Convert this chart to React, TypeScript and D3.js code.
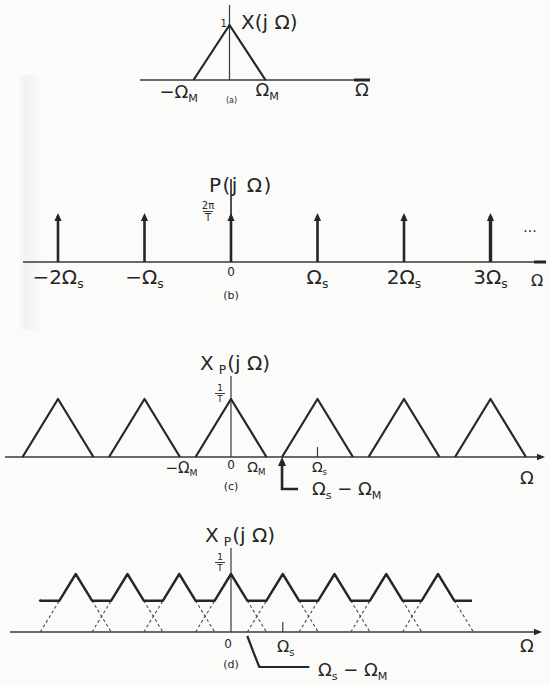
import React from "react";
import * as d3 from "d3";

const W = 550;
const H = 686;

// Frequencies are in units of the band limit Ω_M; magnitudes are normalised to the peak.
const bandLimit = 1;
const peakValue = 1;
const sampleRateWide = 2.44; // Ω_s used in (b) and (c)
const sampleRateNarrow = 1.46; // Ω_s used in (d), below the Nyquist rate
const impulseOrders = [-2, -1, 0, 1, 2, 3];
const impulseTickLabels = [
  [{ t: "−2Ω" }, { t: "s", sub: true }],
  [{ t: "−Ω" }, { t: "s", sub: true }],
  [{ t: "0" }],
  [{ t: "Ω" }, { t: "s", sub: true }],
  [{ t: "2Ω" }, { t: "s", sub: true }],
  [{ t: "3Ω" }, { t: "s", sub: true }],
];
const replicaOrdersC = [-2, -1, 0, 1, 2, 3];
const replicaOrdersD = [-3, -2, -1, 0, 1, 2, 3, 4];
const aliasedExtent = [-5.4, 6.8];

const INK = "#262626";
const AXIS = "#3a3a3a";
const FONT = "'DejaVu Sans', sans-serif";

type Seg = { t: string; sub?: boolean; dx?: number };

function Label({ x, y, parts, size = 18, anchor = "start", spacing = 0 }: { x: number; y: number; parts: Seg[]; size?: number; anchor?: string; spacing?: number }) {
  return (
    <text x={x} y={y} fontSize={size} fontFamily={FONT} fill={INK} textAnchor={anchor as any} letterSpacing={spacing}>
      {parts.map((p, i) =>
        p.sub ? (
          <tspan key={i} fontSize={size * 0.62} dx={p.dx ?? 0} dy={size * 0.22}>{p.t}</tspan>
        ) : (
          <tspan key={i} dx={p.dx ?? 0} dy={i > 0 && parts[i - 1].sub ? -size * 0.22 : 0}>{p.t}</tspan>
        )
      )}
    </text>
  );
}

function triangle(center: number) {
  return [
    [center - bandLimit, 0],
    [center, peakValue],
    [center + bandLimit, 0],
  ];
}

function tri(w: number, c: number) {
  return Math.max(0, peakValue * (1 - Math.abs(w - c) / bandLimit));
}

function ArrowHead({ x, y, dir, size = 7 }: { x: number; y: number; dir: "up" | "right"; size?: number }) {
  const pts = dir === "up"
    ? `${x},${y} ${x - size * 0.45},${y + size} ${x + size * 0.45},${y + size}`
    : `${x},${y} ${x - size},${y - size * 0.4} ${x - size},${y + size * 0.4}`;
  return <polygon points={pts} fill={INK} />;
}

function Frac({ x, y, top, bottom, size = 11 }: { x: number; y: number; top: string; bottom: string; size?: number }) {
  return (
    <g>
      <text x={x} y={y} fontSize={size} fontFamily={FONT} fill={INK} textAnchor="middle">{top}</text>
      <line x1={x - 5} x2={x + 5} y1={y + 2.5} y2={y + 2.5} stroke={INK} strokeWidth={0.9} />
      <text x={x} y={y + size + 2} fontSize={size} fontFamily={FONT} fill={INK} textAnchor="middle">{bottom}</text>
    </g>
  );
}

export default function App() {
  // shared frequency scale for (b), (c), (d)
  const x = d3.scaleLinear().domain([0, bandLimit]).range([231, 266.45]);
  const xA = d3.scaleLinear().domain([0, bandLimit]).range([229.5, 265.5]);

  const yA = d3.scaleLinear().domain([0, peakValue]).range([80, 25]);
  const yB = d3.scaleLinear().domain([0, peakValue]).range([262, 214]);
  const yC = d3.scaleLinear().domain([0, peakValue]).range([457, 399]);
  const yD = d3.scaleLinear().domain([0, peakValue]).range([632, 574]);

  const lineA = d3.line<number[]>().x((d) => xA(d[0])).y((d) => yA(d[1]));
  const lineC = d3.line<number[]>().x((d) => x(d[0])).y((d) => yC(d[1]));
  const lineD = d3.line<number[]>().x((d) => x(d[0])).y((d) => yD(d[1]));

  // (d): overlapping replicas summed into the aliased spectrum
  const allOrders = d3.range(-6, 8);
  const breaks = new Set<number>(aliasedExtent);
  allOrders.forEach((k) => {
    const c = k * sampleRateNarrow;
    [c - bandLimit, c, c + bandLimit].forEach((b) => {
      if (b > aliasedExtent[0] && b < aliasedExtent[1]) breaks.add(b);
    });
  });
  const sumPts = Array.from(breaks)
    .sort((a, b) => a - b)
    .map((w) => [w, d3.sum(allOrders, (k) => tri(w, k * sampleRateNarrow))]);

  const Ms = [{ t: "Ω" }, { t: "M", sub: true }];
  const negMs = [{ t: "−Ω" }, { t: "M", sub: true }];
  const Ss = [{ t: "Ω" }, { t: "s", sub: true }];
  const SminusM = [{ t: "Ω" }, { t: "s", sub: true }, { t: " − Ω" }, { t: "M", sub: true }];
  const XpLabel: Seg[] = [{ t: "X" }, { t: "P", sub: true, dx: 5 }, { t: "(j Ω)", dx: 1 }];

  return (
    <svg width={W} height={H} style={{ position: "absolute", left: 0, top: 0, background: "#fbfbf9" }}>
      <defs>
        <linearGradient id="scanShade" x1="0" x2="1" y1="0" y2="0">
          <stop offset="0" stopColor="#dcdce0" stopOpacity={0} />
          <stop offset="0.3" stopColor="#dcdce0" stopOpacity={0.3} />
          <stop offset="1" stopColor="#dcdce0" stopOpacity={0} />
        </linearGradient>
      </defs>
      <rect x={0} y={0} width={W} height={H} fill="#fbfbf9" />
      <rect x={18} y={75} width={26} height={255} fill="url(#scanShade)" />

      {/* (a) band-limited spectrum */}
      <g>
        <line x1={140} x2={370} y1={yA(0)} y2={yA(0)} stroke={AXIS} strokeWidth={1.4} />
        <line x1={354} x2={370} y1={yA(0)} y2={yA(0)} stroke={INK} strokeWidth={3} />
        <line x1={xA(0)} x2={xA(0)} y1={5} y2={yA(0)} stroke={AXIS} strokeWidth={1.2} />
        <path d={lineA(triangle(0))!} fill="none" stroke={INK} strokeWidth={2.2} strokeLinejoin="round" />
        <text x={xA(0) - 9} y={27} fontSize={10} fontFamily={FONT} fill={INK}>1</text>
        <Label x={241} y={29} size={20} parts={[{ t: "X(j Ω)" }]} />
        <Label x={xA(-bandLimit) - 34} y={98} size={18} parts={negMs} />
        <text x={226} y={103} fontSize={8} fontFamily={FONT} fill={INK}>(a)</text>
        <Label x={xA(bandLimit) - 10} y={96} size={18} parts={Ms} />
        <Label x={362} y={96} size={18} anchor="middle" parts={[{ t: "Ω" }]} />
      </g>

      {/* (b) impulse train */}
      <g>
        <line x1={23} x2={546} y1={yB(0)} y2={yB(0)} stroke={AXIS} strokeWidth={1.4} />
        <line x1={534} x2={546} y1={yB(0)} y2={yB(0)} stroke={INK} strokeWidth={3} />
        <line x1={x(0)} x2={x(0)} y1={179} y2={yB(0)} stroke={INK} strokeWidth={1.6} />
        {impulseOrders.map((k) => (
          <g key={k}>
            <line x1={x(k * sampleRateWide)} x2={x(k * sampleRateWide)} y1={yB(peakValue) + 2} y2={yB(0)} stroke={INK} strokeWidth={k === 3 ? 3.4 : 2.6} />
            <ArrowHead x={x(k * sampleRateWide)} y={yB(peakValue) - 1} dir="up" size={8} />
          </g>
        ))}
        {impulseOrders.map((k, i) =>
          k === 0 ? (
            <text key={k} x={x(0)} y={276} fontSize={12} fontFamily={FONT} fill={INK} textAnchor="middle">0</text>
          ) : (
            <Label key={k} x={x(k * sampleRateWide)} y={284} size={20} anchor="middle" parts={impulseTickLabels[i]} />
          )
        )}
        <Frac x={208} y={209} top="2π" bottom="T" size={10} />
        <Label x={209} y={192} size={20} spacing={1.5} parts={[{ t: "P(j Ω)" }]} />
        <text x={x(0)} y={299} fontSize={11} fontFamily={FONT} fill={INK} textAnchor="middle">(b)</text>
        <text x={530} y={232} fontSize={14} fontFamily={FONT} fill={INK} textAnchor="middle">...</text>
        <Label x={537} y={286} size={16} anchor="middle" parts={[{ t: "Ω" }]} />
      </g>

      {/* (c) sampled spectrum, no overlap */}
      <g>
        <line x1={5} x2={540} y1={yC(0)} y2={yC(0)} stroke={AXIS} strokeWidth={1.4} />
        <ArrowHead x={545} y={yC(0)} dir="right" size={8} />
        <line x1={x(0)} x2={x(0)} y1={376} y2={yC(0)} stroke={AXIS} strokeWidth={1.2} />
        {replicaOrdersC.map((k) => (
          <path key={k} d={lineC(triangle(k * sampleRateWide))!} fill="none" stroke={INK} strokeWidth={2.2} strokeLinejoin="round" />
        ))}
        <line x1={x(sampleRateWide)} x2={x(sampleRateWide)} y1={447} y2={yC(0)} stroke={AXIS} strokeWidth={1.2} />
        <Label x={200} y={370} size={20} parts={XpLabel} />
        <Frac x={220} y={391} top="1" bottom="T" size={9} />
        <Label x={x(-bandLimit) - 14} y={473} size={15} anchor="middle" parts={negMs} />
        <text x={x(0)} y={469} fontSize={12} fontFamily={FONT} fill={INK} textAnchor="middle">0</text>
        <Label x={x(bandLimit) - 10} y={472} size={14} anchor="middle" parts={Ms} />
        <Label x={x(sampleRateWide) + 2} y={472} size={14} anchor="middle" parts={Ss} />
        <text x={x(0)} y={490} fontSize={11} fontFamily={FONT} fill={INK} textAnchor="middle">(c)</text>
        {/* pointer to Ω_s − Ω_M */}
        <ArrowHead x={x(sampleRateWide - bandLimit)} y={457} dir="up" size={9} />
        <polyline
          points={`${x(sampleRateWide - bandLimit)},464 ${x(sampleRateWide - bandLimit)},489 ${x(sampleRateWide - bandLimit) + 16},489`}
          fill="none" stroke={INK} strokeWidth={2.6}
        />
        <Label x={312} y={495} size={18} parts={SminusM} />
        <Label x={527} y={484} size={18} anchor="middle" parts={[{ t: "Ω" }]} />
      </g>

      {/* (d) sampled spectrum with aliasing */}
      <g>
        <line x1={10} x2={536} y1={yD(0)} y2={yD(0)} stroke={AXIS} strokeWidth={1.4} />
        <ArrowHead x={542} y={yD(0)} dir="right" size={8} />
        <line x1={x(0)} x2={x(0)} y1={548} y2={yD(0)} stroke={AXIS} strokeWidth={1.2} />
        {replicaOrdersD.map((k) => (
          <path key={k} d={lineD(triangle(k * sampleRateNarrow))!} fill="none" stroke="#4a4a4a" strokeWidth={1.1} strokeDasharray="3,2.5" />
        ))}
        <path d={lineD(sumPts)!} fill="none" stroke={INK} strokeWidth={2.4} strokeLinejoin="round" />
        <line x1={x(sampleRateNarrow)} x2={x(sampleRateNarrow)} y1={622} y2={yD(0)} stroke={AXIS} strokeWidth={1.2} />
        <Label x={205} y={542} size={20} parts={XpLabel} />
        <Frac x={220} y={560} top="1" bottom="T" size={9} />
        <text x={228} y={648} fontSize={12} fontFamily={FONT} fill={INK} textAnchor="middle">0</text>
        <Label x={x(sampleRateNarrow) + 3} y={652} size={16} anchor="middle" parts={Ss} />
        <text x={231} y={668} fontSize={11} fontFamily={FONT} fill={INK} textAnchor="middle">(d)</text>
        {/* pointer to Ω_s − Ω_M */}
        <polyline
          points={`${x(sampleRateNarrow - bandLimit)},636 ${x(sampleRateNarrow - bandLimit) + 8},657 ${x(sampleRateNarrow - bandLimit) + 12},667 ${x(sampleRateNarrow - bandLimit) + 62},667`}
          fill="none" stroke={INK} strokeWidth={2.2}
        />
        <Label x={318} y={676} size={18} parts={SminusM} />
        <Label x={527} y={652} size={18} anchor="middle" parts={[{ t: "Ω" }]} />
      </g>
    </svg>
  );
}
